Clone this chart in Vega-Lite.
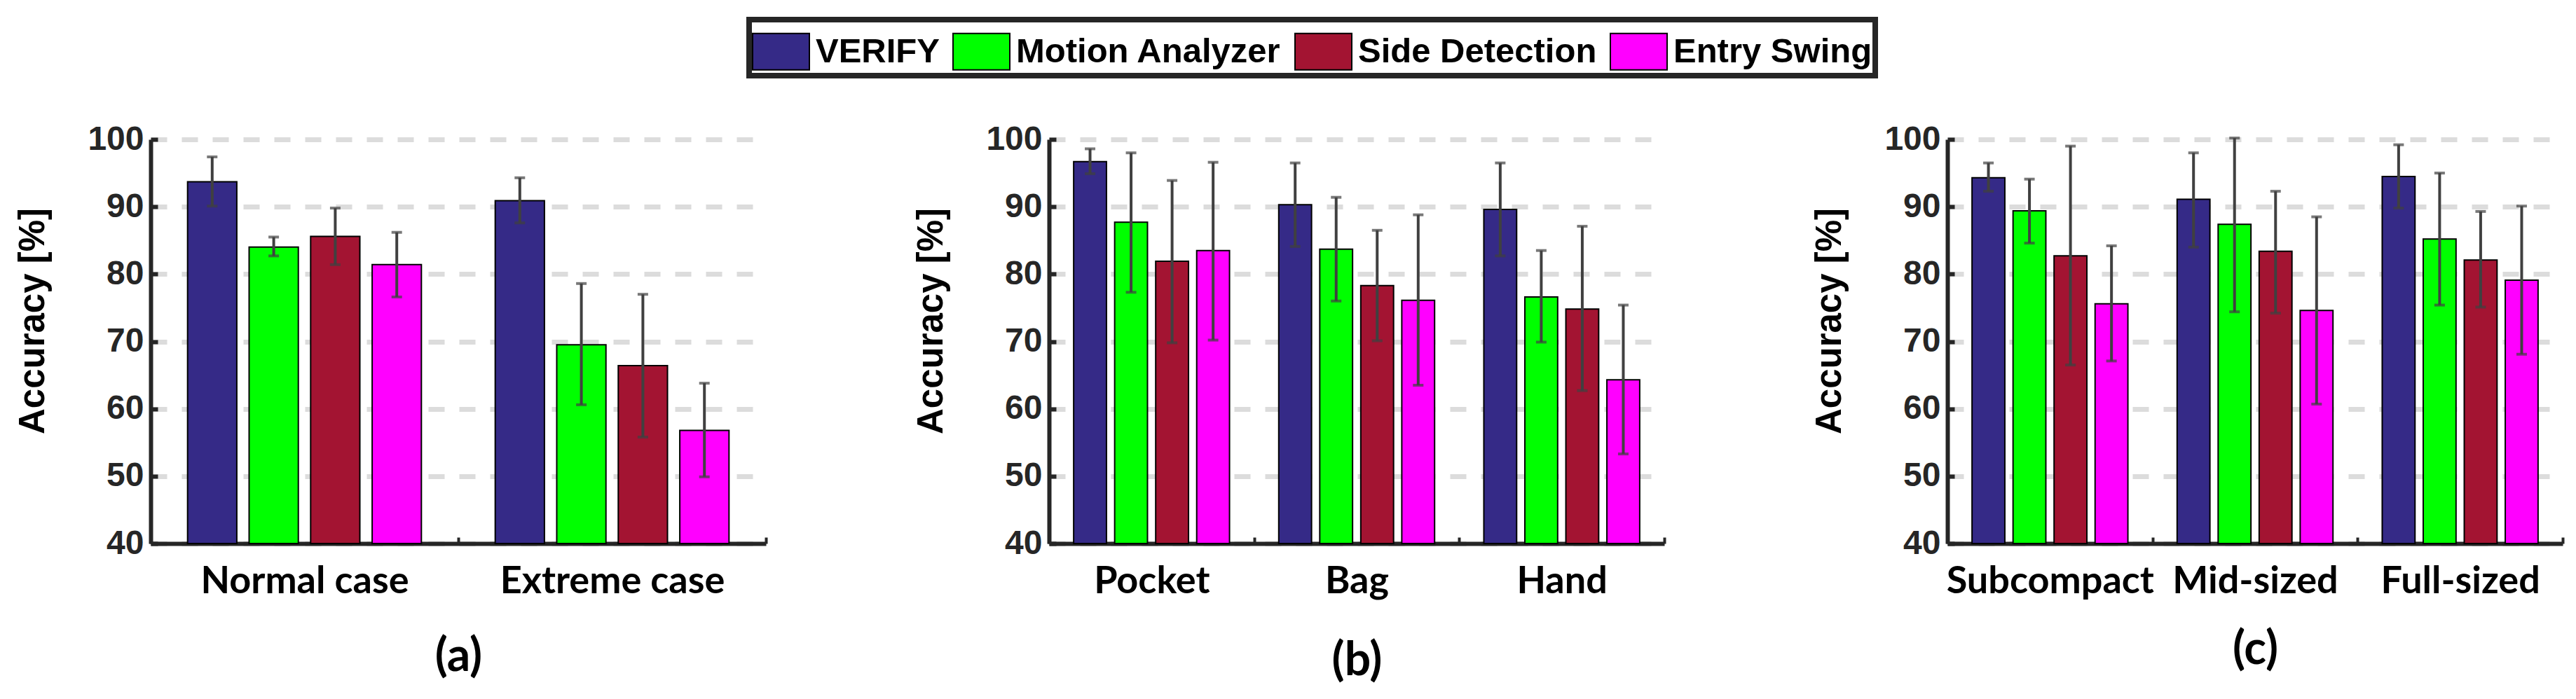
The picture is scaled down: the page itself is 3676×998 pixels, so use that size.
{
  "$schema": "https://vega.github.io/schema/vega-lite/v6.json",
  "background": "white",
  "padding": {"left": 20, "top": 24, "right": 20, "bottom": 10},
  "autosize": {"type": "pad"},
  "bounds": "flush",
  "spacing": 404,
  "resolve": {"scale": {"x": "independent", "xOffset": "independent"}},
  "config": {
    "view": {"stroke": null},
    "axisY": {
      "domainColor": "#262626", "domainWidth": 6,
      "tickColor": "#262626", "tickWidth": 6, "tickSize": -10,
      "labelFont": "Liberation Sans", "labelFontWeight": "bold", "labelFontSize": 48,
      "labelColor": "#262626", "labelPadding": 20,
      "grid": true, "gridColor": "#dcdcdc", "gridWidth": 7, "gridDash": [23, 21],
      "titleFont": "Liberation Sans", "titleFontWeight": "bold", "titleFontSize": 51,
      "titleColor": "black", "titleX": -153, "titleY": 259, "titleBaseline": "alphabetic", "titleAngle": -90
    },
    "axisX": {
      "domainColor": "#262626", "domainWidth": 6,
      "ticks": true, "tickBand": "extent", "tickColor": "#262626", "tickWidth": 4, "tickSize": -9,
      "labelFont": "Lato", "labelFontWeight": "bold", "labelFontSize": 54, "labelColor": "black",
      "labelAngle": 0, "labelPadding": 36, "labelLimit": 1000,
      "titleFont": "Lato", "titleFontWeight": "bold", "titleFontSize": 66, "titleColor": "black",
      "titleBaseline": "alphabetic", "titleX": 439, "grid": false
    },
    "legend": {
      "orient": "none", "legendX": 854, "legendY": -171, "direction": "horizontal",
      "title": null, "strokeColor": "#262626", "strokeWidth": 8, "padding": 4,
      "symbolType": "M-1,-0.64L1,-0.64L1,0.64L-1,0.64Z", "symbolSize": 6561,
      "symbolStrokeColor": "black", "symbolStrokeWidth": 2, "symbolOpacity": 1,
      "labelFont": "Liberation Sans", "labelFontWeight": "bold", "labelFontSize": 49,
      "labelColor": "black", "labelOffset": 8, "columnPadding": 15, "labelLimit": 1000
    }
  },
  "datasets": {
    "a": [
      {"group": "Normal case", "method": "VERIFY", "value": 93.7, "lo": 90.1, "hi": 97.4},
      {"group": "Normal case", "method": "Motion Analyzer", "value": 84.0, "lo": 82.7, "hi": 85.5},
      {"group": "Normal case", "method": "Side Detection", "value": 85.6, "lo": 81.4, "hi": 89.8},
      {"group": "Normal case", "method": "Entry Swing", "value": 81.4, "lo": 76.6, "hi": 86.2},
      {"group": "Extreme case", "method": "VERIFY", "value": 90.9, "lo": 87.6, "hi": 94.3},
      {"group": "Extreme case", "method": "Motion Analyzer", "value": 69.5, "lo": 60.6, "hi": 78.6},
      {"group": "Extreme case", "method": "Side Detection", "value": 66.4, "lo": 55.8, "hi": 77.0},
      {"group": "Extreme case", "method": "Entry Swing", "value": 56.8, "lo": 49.9, "hi": 63.8}
    ],
    "b": [
      {"group": "Pocket", "method": "VERIFY", "value": 96.7, "lo": 94.9, "hi": 98.6},
      {"group": "Pocket", "method": "Motion Analyzer", "value": 87.7, "lo": 77.3, "hi": 98.0},
      {"group": "Pocket", "method": "Side Detection", "value": 81.9, "lo": 69.8, "hi": 93.9},
      {"group": "Pocket", "method": "Entry Swing", "value": 83.5, "lo": 70.2, "hi": 96.6},
      {"group": "Bag", "method": "VERIFY", "value": 90.3, "lo": 84.1, "hi": 96.5},
      {"group": "Bag", "method": "Motion Analyzer", "value": 83.7, "lo": 76.0, "hi": 91.4},
      {"group": "Bag", "method": "Side Detection", "value": 78.3, "lo": 70.1, "hi": 86.5},
      {"group": "Bag", "method": "Entry Swing", "value": 76.1, "lo": 63.5, "hi": 88.8},
      {"group": "Hand", "method": "VERIFY", "value": 89.6, "lo": 82.7, "hi": 96.5},
      {"group": "Hand", "method": "Motion Analyzer", "value": 76.6, "lo": 69.9, "hi": 83.5},
      {"group": "Hand", "method": "Side Detection", "value": 74.8, "lo": 62.7, "hi": 87.1},
      {"group": "Hand", "method": "Entry Swing", "value": 64.3, "lo": 53.3, "hi": 75.4}
    ],
    "c": [
      {"group": "Subcompact", "method": "VERIFY", "value": 94.3, "lo": 92.3, "hi": 96.5},
      {"group": "Subcompact", "method": "Motion Analyzer", "value": 89.4, "lo": 84.6, "hi": 94.1},
      {"group": "Subcompact", "method": "Side Detection", "value": 82.7, "lo": 66.5, "hi": 99.0},
      {"group": "Subcompact", "method": "Entry Swing", "value": 75.6, "lo": 67.1, "hi": 84.2},
      {"group": "Mid-sized", "method": "VERIFY", "value": 91.1, "lo": 84.0, "hi": 98.0},
      {"group": "Mid-sized", "method": "Motion Analyzer", "value": 87.4, "lo": 74.4, "hi": 100.2},
      {"group": "Mid-sized", "method": "Side Detection", "value": 83.4, "lo": 74.2, "hi": 92.3},
      {"group": "Mid-sized", "method": "Entry Swing", "value": 74.6, "lo": 60.7, "hi": 88.5},
      {"group": "Full-sized", "method": "VERIFY", "value": 94.5, "lo": 89.8, "hi": 99.2},
      {"group": "Full-sized", "method": "Motion Analyzer", "value": 85.2, "lo": 75.4, "hi": 95.0},
      {"group": "Full-sized", "method": "Side Detection", "value": 82.1, "lo": 75.1, "hi": 89.3},
      {"group": "Full-sized", "method": "Entry Swing", "value": 79.1, "lo": 68.1, "hi": 90.1}
    ]
  },
  "hconcat": [
    {
      "width": 878, "height": 577,
      "data": {"name": "a"},
      "encoding": {
        "x": {"field": "group", "type": "nominal", "sort": ["Normal case", "Extreme case"],
              "scale": {"paddingInner": 0, "paddingOuter": 0},
              "axis": {"title": "(a)", "titleY": 181}},
        "xOffset": {"field": "method", "type": "nominal",
                    "sort": ["VERIFY", "Motion Analyzer", "Side Detection", "Entry Swing"],
                    "scale": {"paddingInner": 0.2, "paddingOuter": 0.6}}
      },
      "layer": [
        {"mark": {"type": "bar", "stroke": "black", "strokeWidth": 2},
         "encoding": {
           "y": {"field": "value", "type": "quantitative", "title": "Accuracy [%]",
                 "scale": {"domain": [40, 100], "nice": false, "zero": false},
                 "axis": {"values": [40, 50, 60, 70, 80, 90, 100]}},
           "y2": {"datum": 40},
           "color": {"field": "method", "type": "nominal",
                     "scale": {"domain": ["VERIFY", "Motion Analyzer", "Side Detection", "Entry Swing"],
                               "range": ["#352A87", "#00FF00", "#A31432", "#FF00FF"]}}
         }},
        {"mark": {"type": "rule", "color": "#404040", "strokeWidth": 4},
         "encoding": {"y": {"field": "lo", "type": "quantitative", "title": "Accuracy [%]"}, "y2": {"field": "hi"}}},
        {"mark": {"type": "tick", "color": "#404040", "thickness": 4, "size": 15},
         "encoding": {"y": {"field": "lo", "type": "quantitative", "title": "Accuracy [%]"}}},
        {"mark": {"type": "tick", "color": "#404040", "thickness": 4, "size": 15},
         "encoding": {"y": {"field": "hi", "type": "quantitative", "title": "Accuracy [%]"}}}
      ]
    },
    {
      "width": 878, "height": 577,
      "data": {"name": "b"},
      "encoding": {
        "x": {"field": "group", "type": "nominal", "sort": ["Pocket", "Bag", "Hand"],
              "scale": {"paddingInner": 0, "paddingOuter": 0},
              "axis": {"title": "(b)", "titleY": 187}},
        "xOffset": {"field": "method", "type": "nominal",
                    "sort": ["VERIFY", "Motion Analyzer", "Side Detection", "Entry Swing"],
                    "scale": {"paddingInner": 0.2, "paddingOuter": 0.6}}
      },
      "layer": [
        {"mark": {"type": "bar", "stroke": "black", "strokeWidth": 2},
         "encoding": {
           "y": {"field": "value", "type": "quantitative", "title": "Accuracy [%]",
                 "scale": {"domain": [40, 100], "nice": false, "zero": false},
                 "axis": {"values": [40, 50, 60, 70, 80, 90, 100]}},
           "y2": {"datum": 40},
           "color": {"field": "method", "type": "nominal",
                     "scale": {"domain": ["VERIFY", "Motion Analyzer", "Side Detection", "Entry Swing"],
                               "range": ["#352A87", "#00FF00", "#A31432", "#FF00FF"]}}
         }},
        {"mark": {"type": "rule", "color": "#404040", "strokeWidth": 4},
         "encoding": {"y": {"field": "lo", "type": "quantitative", "title": "Accuracy [%]"}, "y2": {"field": "hi"}}},
        {"mark": {"type": "tick", "color": "#404040", "thickness": 4, "size": 15},
         "encoding": {"y": {"field": "lo", "type": "quantitative", "title": "Accuracy [%]"}}},
        {"mark": {"type": "tick", "color": "#404040", "thickness": 4, "size": 15},
         "encoding": {"y": {"field": "hi", "type": "quantitative", "title": "Accuracy [%]"}}}
      ]
    },
    {
      "width": 878, "height": 577,
      "data": {"name": "c"},
      "encoding": {
        "x": {"field": "group", "type": "nominal", "sort": ["Subcompact", "Mid-sized", "Full-sized"],
              "scale": {"paddingInner": 0, "paddingOuter": 0},
              "axis": {"title": "(c)", "titleY": 171}},
        "xOffset": {"field": "method", "type": "nominal",
                    "sort": ["VERIFY", "Motion Analyzer", "Side Detection", "Entry Swing"],
                    "scale": {"paddingInner": 0.2, "paddingOuter": 0.6}}
      },
      "layer": [
        {"mark": {"type": "bar", "stroke": "black", "strokeWidth": 2},
         "encoding": {
           "y": {"field": "value", "type": "quantitative", "title": "Accuracy [%]",
                 "scale": {"domain": [40, 100], "nice": false, "zero": false},
                 "axis": {"values": [40, 50, 60, 70, 80, 90, 100]}},
           "y2": {"datum": 40},
           "color": {"field": "method", "type": "nominal",
                     "scale": {"domain": ["VERIFY", "Motion Analyzer", "Side Detection", "Entry Swing"],
                               "range": ["#352A87", "#00FF00", "#A31432", "#FF00FF"]}}
         }},
        {"mark": {"type": "rule", "color": "#404040", "strokeWidth": 4},
         "encoding": {"y": {"field": "lo", "type": "quantitative", "title": "Accuracy [%]"}, "y2": {"field": "hi"}}},
        {"mark": {"type": "tick", "color": "#404040", "thickness": 4, "size": 15},
         "encoding": {"y": {"field": "lo", "type": "quantitative", "title": "Accuracy [%]"}}},
        {"mark": {"type": "tick", "color": "#404040", "thickness": 4, "size": 15},
         "encoding": {"y": {"field": "hi", "type": "quantitative", "title": "Accuracy [%]"}}}
      ]
    }
  ]
}
